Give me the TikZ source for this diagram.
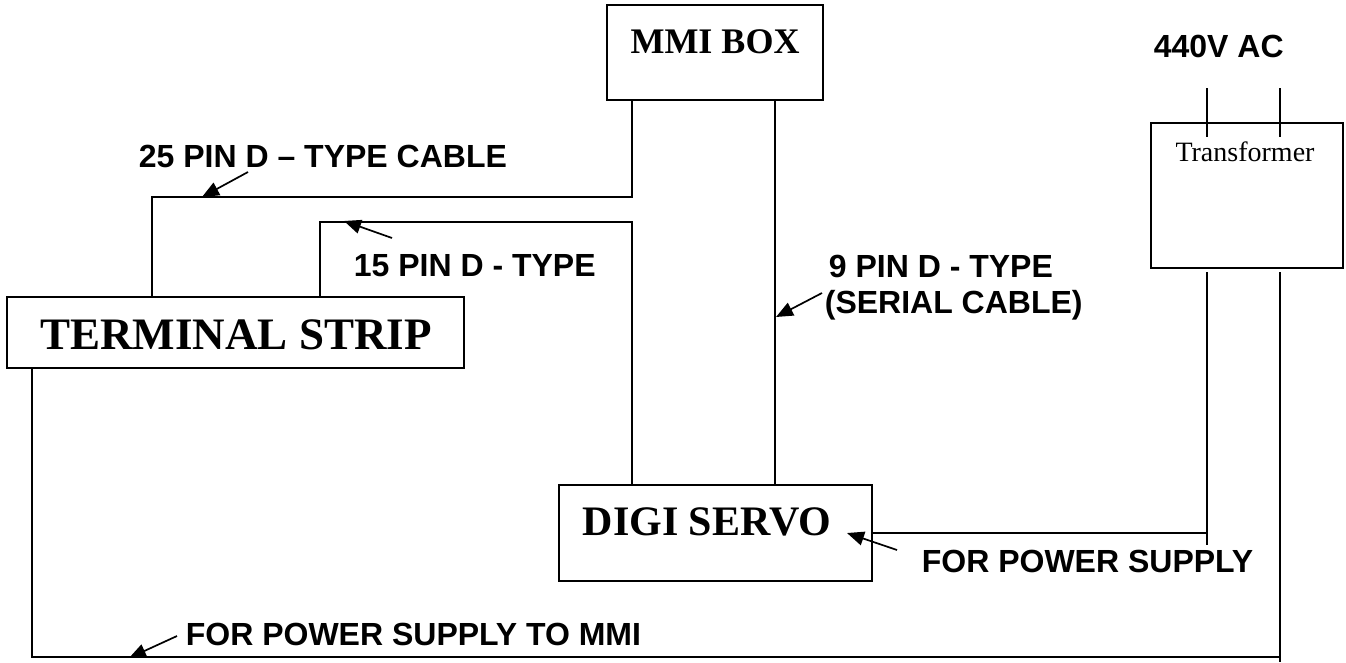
\documentclass[tikz,border=0pt]{standalone}
\usepackage{fontspec}
\setmainfont{Liberation Serif}
\newfontfamily\arialfont{Liberation Sans}
\usetikzlibrary{arrows.meta}
\begin{document}
\begin{tikzpicture}[x=1pt,y=-1pt,line width=1.7pt,
  box/.style={draw,rectangle,inner sep=0pt,outer sep=0pt},
  lbl/.style={font=\arialfont\bfseries\fontsize{32}{38}\selectfont,anchor=base west,inner sep=0pt},
  pointer/.style={-{Triangle[length=17pt,width=14pt]},line width=1.7pt},
  wire/.style={line width=1.7pt}]
\useasboundingbox (0,0) rectangle (1346,662);
% boxes
\node[box,minimum width=216pt,minimum height=95pt] (mmi) at (715,52.5) {};
\node[box,minimum width=457pt,minimum height=71pt] (term) at (235.5,332.5) {};
\node[box,minimum width=313pt,minimum height=96pt] (digi) at (715.5,533) {};
\node[box,minimum width=192pt,minimum height=145pt] (trans) at (1247,195.5) {};
% box texts
\node[anchor=base,inner sep=0pt,font=\bfseries\fontsize{36}{40}\selectfont] (tmmi) at (715,53) {MMI BOX};
\node[anchor=base,inner sep=0pt,font=\bfseries\fontsize{45}{50}\selectfont] (tterm) at (236,349) {TERMINAL STRIP};
\node[anchor=base,inner sep=0pt,font=\bfseries\fontsize{42}{46}\selectfont] (tdigi) at (707,535) {DIGI SERVO};
\node[anchor=base,inner sep=0pt,font=\fontsize{28}{32}\selectfont] (ttrans) at (1245,161) {Transformer};
% labels
\node[lbl] (l25) at (138,167) {25 PIN D – TYPE CABLE};
\node[lbl] (l15) at (353,276) {15 PIN D - TYPE};
\node[lbl] (l9a) at (828,277) {9 PIN D - TYPE};
\node[lbl] (l9b) at (824,313) {(SERIAL CABLE)};
\node[lbl] (lps) at (921,572) {FOR POWER SUPPLY};
\node[lbl] (lmmi) at (185,645) {FOR POWER SUPPLY TO MMI};
\node[lbl] (l440) at (1153,57) {440V AC};
% helper coordinates
\coordinate (xA) at (632,0);
\coordinate (xB) at (775,0);
\coordinate (xC) at (152,0);
\coordinate (xD) at (320,0);
\coordinate (xG) at (32,0);
\coordinate (y25) at (0,197);
\coordinate (y15) at (0,222);
\coordinate (yPS) at (0,533);
\coordinate (yBot) at (0,657);
\coordinate (e0) at (1207,88);
\coordinate (e1) at (1207,137);
\coordinate (f0) at (1280,88);
\coordinate (f1) at (1280,137);
\coordinate (e2) at (1207,272);
\coordinate (e3) at (1207,545);
\coordinate (f2) at (1280,272);
\coordinate (f3) at (1280,662);
% wires
\draw[wire] (mmi.south -| xA) -- (xA |- y25) -- (xC |- y25) -- (term.north -| xC);
\draw[wire] (term.north -| xD) -- (xD |- y15) -- (xA |- y15) -- (digi.north -| xA);
\draw[wire] (mmi.south -| xB) -- (digi.north -| xB);
\draw[wire] (e0) -- (e1);
\draw[wire] (f0) -- (f1);
\draw[wire] (e2) -- (e3);
\draw[wire] (e2 |- yPS) -- (digi.east |- yPS);
\draw[wire] (f2) -- (f3);
\draw[wire] (term.south -| xG) -- (xG |- yBot) -- (f2 |- yBot);
% pointer arrows
\coordinate (p25t) at (248,172); \coordinate (p25h) at (202,197);
\coordinate (p15t) at (392,238); \coordinate (p15h) at (344,221);
\coordinate (p9t) at (822,293); \coordinate (p9h) at (776,317);
\coordinate (ppst) at (897,550); \coordinate (ppsh) at (847,533);
\coordinate (pmt) at (177,636); \coordinate (pmh) at (129,658);
\draw[pointer] (p25t) -- (p25h);
\draw[pointer] (p15t) -- (p15h);
\draw[pointer] (p9t) -- (p9h);
\draw[pointer] (ppst) -- (ppsh);
\draw[pointer] (pmt) -- (pmh);
\end{tikzpicture}
\end{document}
